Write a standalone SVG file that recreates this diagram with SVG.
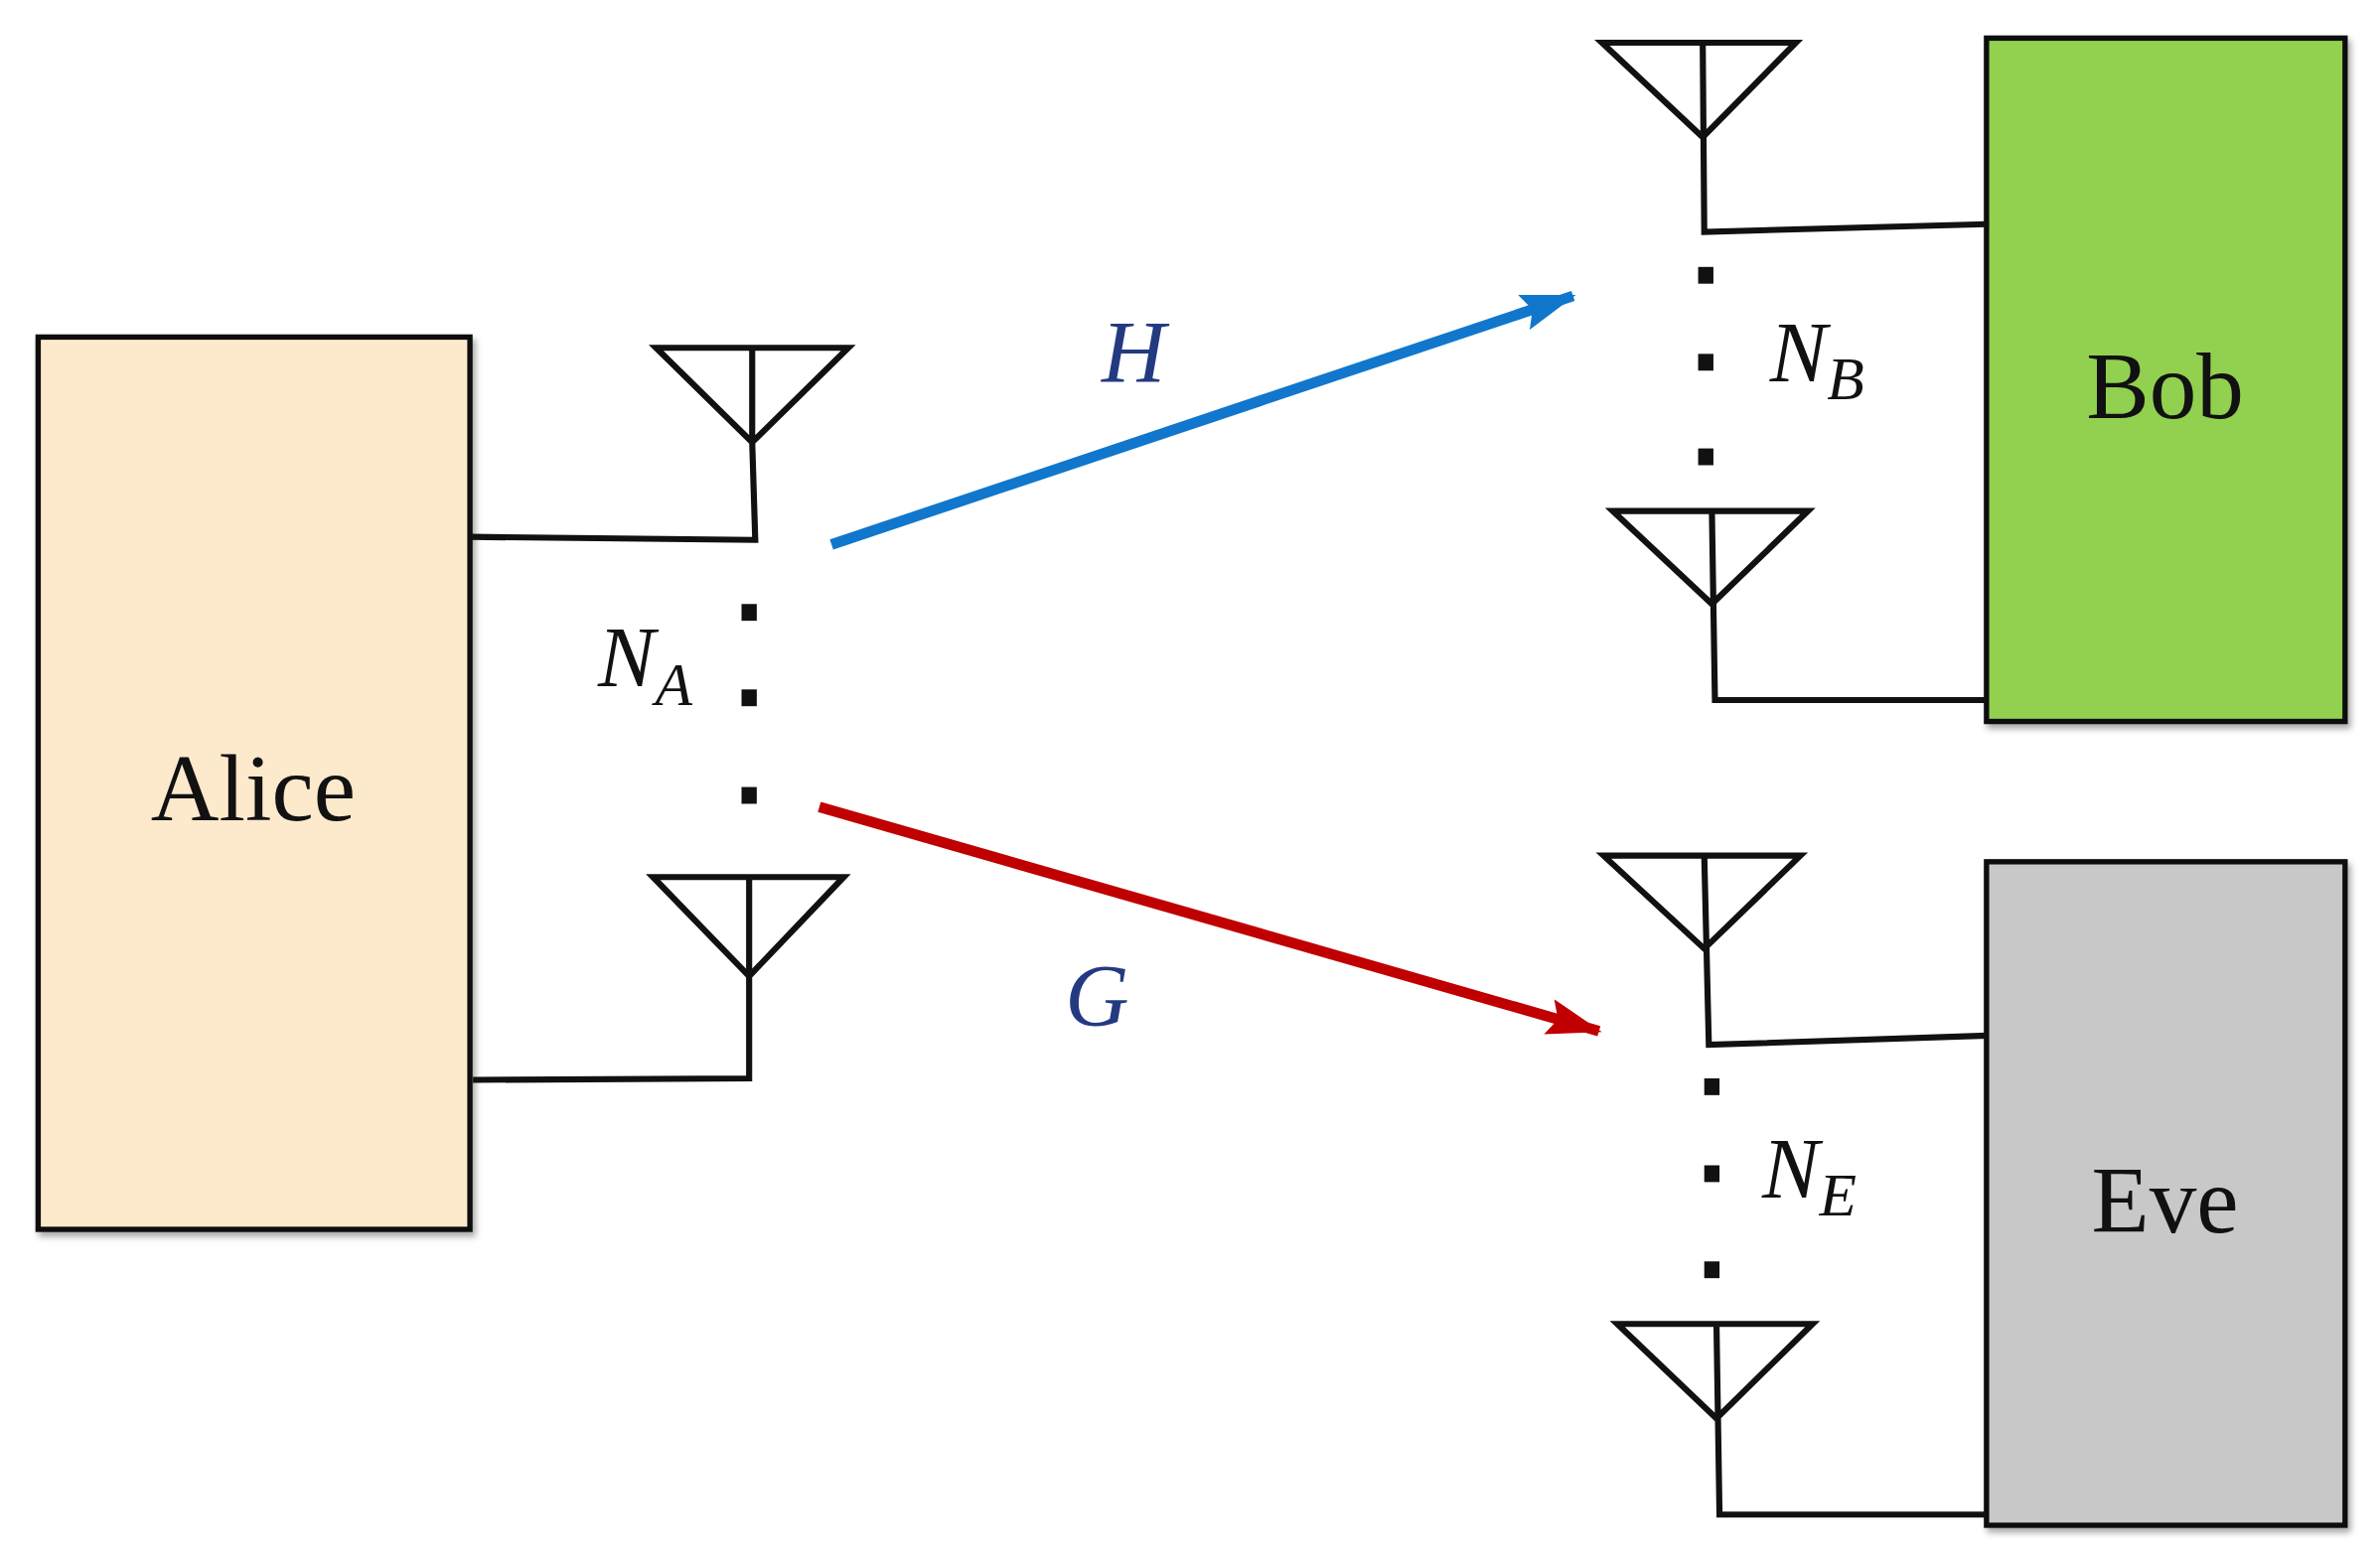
<svg xmlns="http://www.w3.org/2000/svg" width="2396" height="1573" viewBox="0 0 2396 1573">
<style>
.box{stroke:#111;stroke-width:3.5}
.w{fill:none;stroke:#111;stroke-width:4;stroke-linejoin:miter}
.lbl{font-family:"Liberation Serif",serif;font-size:62px;fill:#111;text-anchor:middle}
.m{font-family:"Liberation Serif",serif;font-style:italic;fill:#111}
.d{fill:#111}
</style>
<defs>
<filter id="sh" x="-5%" y="-5%" width="115%" height="115%"><feDropShadow dx="2" dy="3" stdDeviation="2" flood-opacity="0.35"/></filter>
<marker id="ab" markerWidth="36" markerHeight="24" refX="34" refY="12" orient="auto" markerUnits="userSpaceOnUse"><path d="M0,0 L36,12 L0,24 L6,12 Z" fill="#1177cc"/></marker>
<marker id="ar" markerWidth="36" markerHeight="24" refX="34" refY="12" orient="auto" markerUnits="userSpaceOnUse"><path d="M0,0 L36,12 L0,24 L6,12 Z" fill="#c00000"/></marker>
</defs>
<rect width="2396" height="1573" fill="#fff"/>
<g transform="scale(1.536)">
<g id="alice">
<rect class="box" x="25" y="221" width="283" height="585" fill="#fde9cc" filter="url(#sh)"/>
<text class="lbl" x="166" y="538">Alice</text>
<path class="w" d="M430,228 L556,228 L493,290 Z M493,228 L493,290 L495,354 L308,352"/>
<path class="w" d="M428,575 L553,575 L491,640 Z M491,575 L491,707 L310,708"/>
<rect class="d" x="486" y="396" width="10" height="11"/><rect class="d" x="486" y="452" width="10" height="11"/><rect class="d" x="486" y="516" width="10" height="11"/>
<text class="m" x="392" y="450" font-size="56">N<tspan font-size="40" dy="12">A</tspan></text>
</g>
<g id="bob">
<rect class="box" x="1302" y="25" width="235" height="448" fill="#92d050" filter="url(#sh)"/>
<text class="lbl" x="1419" y="274">Bob</text>
<path class="w" d="M1050,28 L1177,28 L1116,90 Z M1116,28 L1117,152 L1302,147"/>
<path class="w" d="M1057,335 L1185,335 L1122,396 Z M1122,335 L1124,459 L1302,459"/>
<rect class="d" x="1113" y="175" width="10" height="11"/><rect class="d" x="1113" y="232" width="10" height="11"/><rect class="d" x="1113" y="294" width="10" height="11"/>
<text class="m" x="1160" y="250" font-size="56">N<tspan font-size="40" dy="12">B</tspan></text>
</g>
<g id="eve">
<rect class="box" x="1302" y="565" width="235" height="435" fill="#c8c8c8" filter="url(#sh)"/>
<text class="lbl" x="1419" y="808">Eve</text>
<path class="w" d="M1051,561 L1180,561 L1117,622 Z M1117,561 L1120,685 L1303,679"/>
<path class="w" d="M1060,868 L1188,868 L1125,930 Z M1125,868 L1127,993 L1302,993"/>
<rect class="d" x="1117" y="707" width="10" height="11"/><rect class="d" x="1117" y="764" width="10" height="11"/><rect class="d" x="1117" y="827" width="10" height="11"/>
<text class="m" x="1155" y="785" font-size="56">N<tspan font-size="40" dy="12">E</tspan></text>
</g>
<g id="connectors">
<line x1="545" y1="357" x2="1031" y2="194" stroke="#1177cc" stroke-width="7" marker-end="url(#ab)"/>
<line x1="537" y1="529" x2="1048" y2="676" stroke="#c00000" stroke-width="7" marker-end="url(#ar)"/>
<text class="m" x="722" y="250" font-size="58" style="fill:#243a80">H</text>
<text class="m" x="698" y="672" font-size="58" style="fill:#243a80">G</text>
</g>
</g>
</svg>
